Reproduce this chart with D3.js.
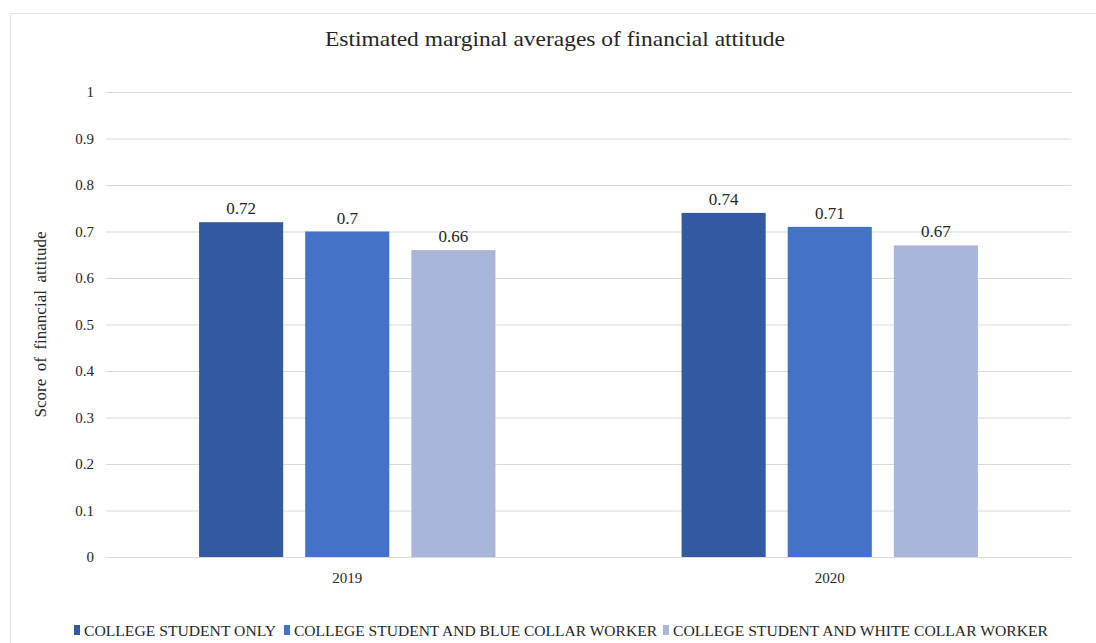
<!DOCTYPE html>
<html><head><meta charset="utf-8">
<script src="https://cdn.jsdelivr.net/npm/d3@7"></script>
<style>body{margin:0;background:#fff}svg{display:block}</style>
</head><body>
<script>
const years = ["2019", "2020"];
const seriesNames = ["COLLEGE STUDENT ONLY", "COLLEGE STUDENT AND BLUE COLLAR WORKER", "COLLEGE STUDENT AND WHITE COLLAR WORKER"];
const studentOnly = [0.72, 0.74];
const blueCollar = [0.70, 0.71];
const whiteCollar = [0.66, 0.67];
const yTicks = [0, 0.1, 0.2, 0.3, 0.4, 0.5, 0.6, 0.7, 0.8, 0.9, 1];
const colors = ["#335AA1", "#4472C4", "#A9B6DA"];
const seriesValues = [studentOnly, blueCollar, whiteCollar];

// pick an installed serif font
const ctx = document.createElement("canvas").getContext("2d");
function has(f) {
  const s = "abcdefghijklmnopqrstuvwxyzABCDEFGHIJ0123456789";
  return ["monospace", "sans-serif"].some(b => {
    ctx.font = `40px ${b}`; const w0 = ctx.measureText(s).width;
    ctx.font = `40px "${f}", ${b}`; return ctx.measureText(s).width !== w0;
  });
}
const candidates = ["Liberation Serif", "Tinos", "Times New Roman", "Times", "Nimbus Roman", "Nimbus Roman No9 L", "DejaVu Serif", "Noto Serif", "FreeSerif", "Noto Serif CJK SC"];
const found = candidates.find(has);
const FONT = found ? `"${found}", serif` : "serif";

const W = 1096, H = 643;
const svg = d3.select("body").append("svg").attr("width", W).attr("height", H)
  .attr("font-family", FONT);
svg.append("rect").attr("x", 10.5).attr("y", 13.5).attr("width", W).attr("height", H)
  .attr("fill", "#fff").attr("stroke", "#e2e2e2");

const m = {left: 106, right: 1071, top: 92, bottom: 557};
const x0 = d3.scaleBand().domain(years).range([m.left, m.right]);
const x1 = d3.scaleBand().domain(d3.range(3)).range([0, x0.bandwidth()]).paddingInner(0.2075).paddingOuter(0.877);
const y = d3.scaleLinear().domain([0, 1]).range([m.bottom, m.top]);

function txt(sel) { return sel.attr("font-family", FONT).attr("fill", "#262626"); }

txt(svg.append("text")).attr("x", 325).attr("y", 46)
  .attr("font-size", 21).attr("textLength", 460).attr("lengthAdjust", "spacingAndGlyphs")
  .text("Estimated marginal averages of financial attitude");

const yAxis = svg.append("g").attr("transform", `translate(${m.left},0)`)
  .call(d3.axisLeft(y).tickValues(yTicks).tickSize(-(m.right - m.left)).tickPadding(12).tickFormat(d => d3.format("~g")(d)));
yAxis.attr("font-family", FONT);
yAxis.select(".domain").remove();
yAxis.selectAll("line").attr("stroke", "#d9d9d9").attr("stroke-width", 1);
txt(yAxis.selectAll("text")).attr("font-size", 15);

txt(svg.append("text")).attr("transform", `translate(46,${(m.top + m.bottom) / 2}) rotate(-90)`)
  .attr("text-anchor", "middle").attr("font-size", 16).attr("word-spacing", 3)
  .attr("textLength", 186).attr("lengthAdjust", "spacingAndGlyphs")
  .text("Score of financial attitude");

const xAxis = svg.append("g").attr("transform", `translate(0,${m.bottom})`)
  .call(d3.axisBottom(x0).tickSize(0).tickPadding(15));
xAxis.attr("font-family", FONT);
xAxis.select(".domain").attr("stroke", "#d9d9d9");
txt(xAxis.selectAll("text")).attr("font-size", 15);

years.forEach((yr, i) => {
  const g = svg.append("g").attr("transform", `translate(${x0(yr)},0)`);
  seriesValues.forEach((vals, s) => {
    g.append("rect").attr("x", x1(s)).attr("y", y(vals[i])).attr("width", x1.bandwidth())
      .attr("height", y(0) - y(vals[i])).attr("fill", colors[s]);
    txt(g.append("text")).attr("x", x1(s) + x1.bandwidth() / 2).attr("y", y(vals[i]) - 8)
      .attr("text-anchor", "middle").attr("font-size", 17).text(d3.format("~g")(vals[i]));
  });
});

// legend
const legend = svg.append("g");
const legendX = [74, 284, 663];
const legendW = [192, 363, 375];
seriesNames.forEach((n, s) => {
  legend.append("rect").attr("x", legendX[s]).attr("y", 625).attr("width", 6).attr("height", 10).attr("fill", colors[s]);
  txt(legend.append("text")).attr("x", legendX[s] + 10).attr("y", 636).attr("font-size", 15)
    .attr("textLength", legendW[s]).attr("lengthAdjust", "spacingAndGlyphs").text(n);
});
</script>
</body></html>
